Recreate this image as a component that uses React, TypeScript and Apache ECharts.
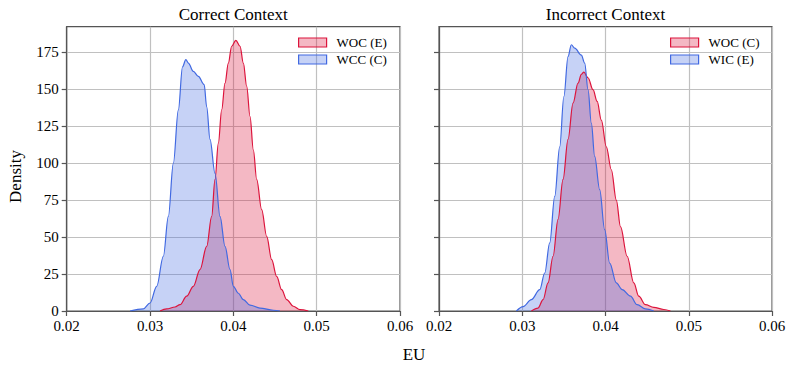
import React, { useEffect, useRef } from "react";
import * as echarts from "echarts";

// Left panel: Correct Context
const wocE_x = [0.0312, 0.032, 0.033, 0.0336, 0.0344, 0.0352, 0.036, 0.0368, 0.0374, 0.0378, 0.0382, 0.0386, 0.039, 0.0394, 0.0398, 0.0403, 0.0408, 0.0412, 0.0416, 0.042, 0.0424, 0.0428, 0.0434, 0.044, 0.0446, 0.0452, 0.0458, 0.0464, 0.0472, 0.048, 0.049];
const wocE_y = [0, 1.4, 2.7, 4.3, 10, 16.7, 28, 43.7, 64, 89, 113.5, 136, 154, 167.6, 179, 183, 179, 167.6, 152, 131.5, 109, 89, 68.5, 50.5, 34.7, 23.4, 14.4, 7.7, 3.2, 0.9, 0];
const wccC_x = [0.0276, 0.0292, 0.03, 0.0308, 0.0316, 0.0322, 0.0328, 0.0334, 0.0339, 0.0343, 0.0346, 0.0352, 0.0358, 0.0365, 0.0368, 0.0372, 0.0378, 0.0384, 0.039, 0.0396, 0.04, 0.0406, 0.0412, 0.042, 0.0432, 0.0448, 0.0456];
const wccC_y = [0, 1.4, 5.4, 16.7, 37, 64, 100, 136, 165, 170, 167.6, 162, 158.6, 153, 138, 116, 93, 64, 43.7, 28, 16.7, 12, 7.7, 4, 2, 0.5, 0];

// Right panel: Incorrect Context
const wocC_x = [0.0311, 0.0319, 0.0325, 0.0331, 0.0337, 0.0343, 0.0349, 0.0355, 0.0361, 0.0367, 0.0371, 0.0374, 0.0379, 0.0385, 0.039, 0.0395, 0.0401, 0.0407, 0.0413, 0.0418, 0.0426, 0.0434, 0.044, 0.0448, 0.0458, 0.047, 0.0478];
const wocC_y = [0, 2, 7.7, 19, 37, 62, 89, 116, 140.5, 154, 160, 161.5, 157.7, 149.6, 141.7, 129, 111, 95.5, 75, 57, 37, 19, 10, 4.3, 2.5, 1, 0];
const wicE_x = [0.0293, 0.0301, 0.0311, 0.0321, 0.0327, 0.0333, 0.0339, 0.0345, 0.035, 0.0355, 0.0359, 0.0363, 0.0371, 0.0375, 0.0379, 0.0383, 0.0387, 0.0393, 0.0399, 0.0405, 0.0413, 0.042, 0.043, 0.0438, 0.0448, 0.0458];
const wicE_y = [0, 3, 7.7, 14.4, 25.7, 46, 77.5, 111, 145, 172, 180, 177.7, 173, 167.6, 149.6, 127, 104.5, 82, 55, 32.4, 19, 14.4, 10, 4.3, 1.4, 0];

const titles = ["Correct Context", "Incorrect Context"];
const yTicks = [0, 25, 50, 75, 100, 125, 150, 175];
const xMin = 0.02;
const xMax = 0.06;
const xStep = 0.01;
const yMax = 192.2;

const RED = "#DC143C";
const BLUE = "#4169E1";
const RED_FILL = "rgba(220,20,60,0.3)";
const BLUE_FILL = "rgba(65,105,225,0.3)";
const FONT = "Liberation Serif, Times New Roman, serif";
const SPINE = "#555";

const zip = (xs: number[], ys: number[]) => xs.map((x, i) => [x, ys[i]]);

export default function App() {
  const ref = useRef<HTMLDivElement>(null);
  useEffect(() => {
    if (!ref.current) return;
    const chart = echarts.init(ref.current, undefined, { renderer: "svg" });
    const grids = [
      { left: 66.7, right: 393, top: 26.7, bottom: 61 },
      { left: 439, right: 21, top: 26.7, bottom: 61 },
    ];
    const mkX = (i: number) => ({
      type: "value",
      gridIndex: i,
      min: xMin,
      max: xMax,
      interval: xStep,
      axisLine: { show: true, onZero: false, lineStyle: { color: SPINE, width: 1.2 } },
      axisTick: { show: true, length: 5, lineStyle: { color: SPINE, width: 1.2 } },
      axisLabel: {
        margin: 7.5,
        fontFamily: FONT,
        fontSize: 15,
        color: "#000",
        formatter: (v: number) => v.toFixed(2),
      },
      splitLine: { show: true, lineStyle: { color: "#c0c0c0", width: 1.2 } },
    });
    const mkY = (i: number) => ({
      type: "value",
      gridIndex: i,
      min: 0,
      max: yMax,
      interval: 25,
      axisLine: { show: true, lineStyle: { color: SPINE, width: 1.2 } },
      axisTick: { show: true, length: 5, customValues: yTicks, lineStyle: { color: SPINE, width: 1.2 } },
      axisLabel: {
        show: i === 0,
        customValues: yTicks,
        margin: 8,
        fontFamily: FONT,
        fontSize: 15,
        color: "#000",
      },
      splitLine: { show: true, lineStyle: { color: "#c0c0c0", width: 1.2 } },
    });
    const mkSeries = (name: string, data: number[][], idx: number, color: string, fill: string) => ({
      type: "line",
      name,
      xAxisIndex: idx,
      yAxisIndex: idx,
      data,
      smooth: 0.35,
      smoothMonotone: "x",
      showSymbol: false,
      symbol: "none",
      lineStyle: { color, width: 1.2 },
      itemStyle: { color },
      areaStyle: { color: fill, opacity: 1 },
    });
    const legendItem = (name: string, color: string, fill: string) => ({
      name,
      itemStyle: { color: fill, borderColor: color, borderWidth: 1.2 },
    });
    const mkLegend = (left: number, items: any[]) => ({
      orient: "vertical",
      left,
      top: 35.5,
      padding: 0,
      icon: "rect",
      itemWidth: 28,
      itemHeight: 9,
      itemGap: 3,
      data: items,
      textStyle: {
        fontFamily: FONT,
        fontSize: 13,
        color: "#000",
        lineHeight: 14,
        padding: [0, 0, 0, 5],
      },
    });
    chart.setOption({
      animation: false,
      backgroundColor: "#fff",
      grid: grids.map((g) => ({
        ...g,
        show: true,
        borderColor: SPINE,
        borderWidth: 1.2,
        backgroundColor: "transparent",
      })),
      xAxis: [mkX(0), mkX(1)],
      yAxis: [mkY(0), mkY(1)],
      legend: [
        mkLegend(298, [legendItem("WOC (E)", RED, RED_FILL), legendItem("WCC (C)", BLUE, BLUE_FILL)]),
        mkLegend(670, [legendItem("WOC (C)", RED, RED_FILL), legendItem("WIC (E)", BLUE, BLUE_FILL)]),
      ],
      series: [
        mkSeries("WOC (E)", zip(wocE_x, wocE_y), 0, RED, RED_FILL),
        mkSeries("WCC (C)", zip(wccC_x, wccC_y), 0, BLUE, BLUE_FILL),
        mkSeries("WOC (C)", zip(wocC_x, wocC_y), 1, RED, RED_FILL),
        mkSeries("WIC (E)", zip(wicE_x, wicE_y), 1, BLUE, BLUE_FILL),
      ],
      graphic: [
        {
          type: "text",
          x: 233.3,
          y: 14.5,
          style: { text: titles[0], fontFamily: FONT, fontSize: 17, fill: "#000", align: "center", verticalAlign: "middle" },
        },
        {
          type: "text",
          x: 605.5,
          y: 14.5,
          style: { text: titles[1], fontFamily: FONT, fontSize: 17, fill: "#000", align: "center", verticalAlign: "middle" },
        },
        {
          type: "text",
          x: 414,
          y: 354.5,
          style: { text: "EU", fontFamily: FONT, fontSize: 17, fill: "#000", align: "center", verticalAlign: "middle" },
        },
        {
          type: "text",
          x: 15,
          y: 176.5,
          rotation: Math.PI / 2,
          style: { text: "Density", fontFamily: FONT, fontSize: 17, fill: "#000", align: "center", verticalAlign: "middle" },
        },
      ],
    });
    return () => chart.dispose();
  }, []);
  return (
    <div
      ref={ref}
      style={{ position: "fixed", left: 0, top: 0, width: 793, height: 372 }}
    />
  );
}
